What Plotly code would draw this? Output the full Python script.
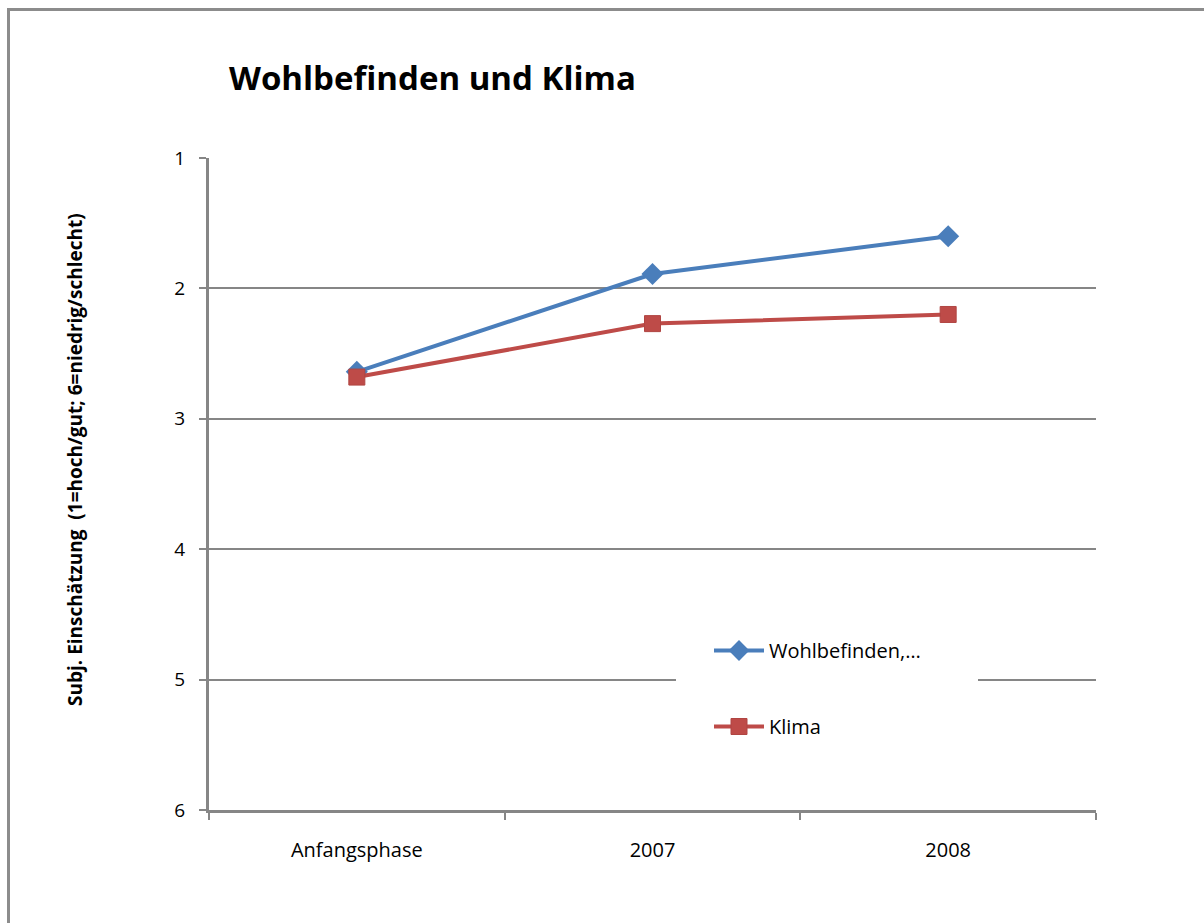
import plotly.graph_objects as go

# Survey waves and mean self-ratings (1 = high/good, 6 = low/bad)
categories = ["Anfangsphase", "2007", "2008"]
wohlbefinden = [2.64, 1.89, 1.60]
klima = [2.68, 2.27, 2.20]
y_ticks = [1, 2, 3, 4, 5, 6]

FONT = "Open Sans"
GRID = "#868686"

# plot area in pixels
L, R, T, B = 209, 1096, 158, 810
PW, PH = R - L, B - T


def px(x):
    return (x - L) / PW


def py(y):
    return (B - y) / PH


fig = go.Figure()
fig.add_trace(go.Scatter(
    x=categories, y=wohlbefinden, name="Wohlbefinden,…",
    mode="lines+markers", legendgroup="a",
    line=dict(color="#4a7ebb", width=4),
    marker=dict(symbol="diamond", size=17, color="#4a7ebb"),
))
fig.add_trace(go.Scatter(
    x=categories, y=klima, name="Klima",
    mode="lines+markers", legendgroup="b",
    line=dict(color="#be4b48", width=4),
    marker=dict(symbol="square", size=16, color="#be4b48",
                line=dict(color="#b04542", width=1)),
))

fig.update_layout(
    width=1204, height=923,
    margin=dict(l=L, r=1204 - R, t=T, b=923 - B),
    paper_bgcolor="white", plot_bgcolor="white",
    font=dict(family=FONT, size=19, color="black"),
    title=dict(text="<b>Wohlbefinden und Klima</b>", x=229 / 1204, xanchor="left",
               y=1 - 78 / 923, yanchor="middle",
               font=dict(family=FONT, size=33, color="black")),
    showlegend=True,
    legend=dict(x=px(709), y=py(631), xanchor="left", yanchor="top",
                bgcolor="rgba(0,0,0,0)", font=dict(family=FONT, size=20),
                tracegroupgap=47, itemwidth=50),
    xaxis=dict(
        type="category", range=[-0.5, 2.5],
        showgrid=False, showline=True, linecolor=GRID, linewidth=3,
        ticks="outside", ticklen=7, tickwidth=2, tickcolor=GRID,
        tickson="boundaries", ticklabelstandoff=20,
        tickfont=dict(family=FONT, size=20),
    ),
    yaxis=dict(
        range=[6, 1], tickvals=y_ticks,
        showgrid=True, gridcolor=GRID, gridwidth=2,
        showline=True, linecolor=GRID, linewidth=3,
        ticks="outside", ticklen=7, tickwidth=2, tickcolor=GRID,
        ticklabelstandoff=10, zeroline=False,
        tickfont=dict(family=FONT, size=19),
    ),
    annotations=[dict(
        text="<b>Subj. Einschätzung  (1=hoch/gut; 6=niedrig/schlecht)</b>",
        xref="paper", yref="paper", x=px(75), y=py(460),
        xanchor="center", yanchor="middle", textangle=-90, showarrow=False,
        font=dict(family=FONT, size=19, color="black"),
    )],
    shapes=[
        # legend backdrop hiding the gridline behind it
        dict(type="rect", xref="paper", yref="paper", layer="above",
             x0=px(676), x1=px(978), y0=py(760), y1=py(620),
             fillcolor="white", line=dict(width=0)),
        # outer chart frame
        dict(type="rect", xref="paper", yref="paper", layer="below",
             x0=px(8.5), x1=1.3, y0=-0.3, y1=py(9.5),
             line=dict(color="#8c8c8c", width=3)),
    ],
)

fig.write_html("out.html")
